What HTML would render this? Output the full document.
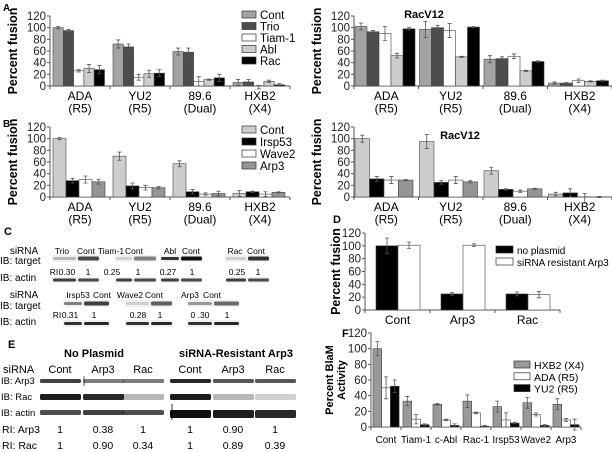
<!DOCTYPE html>
<html><head><meta charset="utf-8">
<style>
html,body{margin:0;padding:0;background:#fff;}
svg{display:block;font-family:"Liberation Sans",Arial,sans-serif;}
</style></head>
<body>
<svg id="fig" width="612" height="452" viewBox="0 0 612 452" xmlns="http://www.w3.org/2000/svg">
<g id="static" font-size="11" fill="#000">
  <text x="3" y="11" font-weight="bold" font-size="10">A</text>
  <text x="3" y="127" font-weight="bold" font-size="10">B</text>
  <text x="4" y="235" font-weight="bold" font-size="11">C</text>
  <text x="333" y="223" font-weight="bold" font-size="11">D</text>
  <text x="8" y="348" font-weight="bold" font-size="11">E</text>
  <text x="342" y="337" font-weight="bold" font-size="11">F</text>
  <text x="424" y="18" font-weight="bold" font-size="11" text-anchor="middle">RacV12</text>
  <text x="460" y="139" font-weight="bold" font-size="11" text-anchor="middle">RacV12</text>
</g>
<g id="charts"></g>
<g id="blots"></g>
</svg>
<script>
// ---------- Data ----------
const strainCats = ["ADA|(R5)", "YU2|(R5)", "89.6|(Dual)", "HXB2|(X4)"];
const aLegend = ["Cont", "Trio", "Tiam-1", "Abl", "Rac"];
const aLeftCont = [100, 72, 59, 6];
const aLeftTrio = [95, 67, 58, 7];
const aLeftTiam = [26, 15, 8, -2];
const aLeftAbl = [30, 21, 11, 8];
const aLeftRac = [28, 22, 14, 2];
const aLeftErr = [[2,7,6,5],[2,5,7,4],[2,5,8,3],[7,6,1,2],[7,6,6,2]];
const aRightCont = [102, 97, 46, 5];
const aRightTrio = [93, 100, 47, 5];
const aRightTiam = [90, 95, 51, 9];
const aRightAbl = [52, 50, 26, 8];
const aRightRac = [98, 101, 42, 9];
const aRightErr = [[6,14,6,2],[2,4,3,1],[12,12,4,3],[4,1,1,1],[2,1,1,1]];
const bLegend = ["Cont", "Irsp53", "Wave2", "Arp3"];
const bLeftCont = [100, 70, 57, 6];
const bLeftIrsp = [28, 19, 9, 9];
const bLeftWave = [30, 16, 5, 5];
const bLeftArp = [26, 16, 6, 8];
const bLeftErr = [[2,7,5,5],[4,5,4,1],[6,4,2,4],[4,2,4,1]];
const bRightCont = [100, 95, 45, 5];
const bRightIrsp = [31, 25, 13, 7];
const bRightWave = [29, 29, 10, -2];
const bRightArp = [29, 26, 14, 0];
const bRightErr = [[6,12,6,3],[4,3,1,7],[6,6,2,8],[1,2,1,1]];
const yTicks120 = [0, 20, 40, 60, 80, 100, 120];
const dCats = ["Cont", "Arp3", "Rac"];
const dLegend = ["no plasmid", "siRNA resistant Arp3"];
const dNoPlasmid = [100, 25, 25];
const dResistant = [101, 101, 24];
const dErr = [[12,2,3],[5,2,5]];
const fCats = ["Cont", "Tiam-1", "c-Abl", "Rac-1", "Irsp53", "Wave2", "Arp3"];
const fLegend = ["HXB2 (X4)", "ADA (R5)", "YU2 (R5)"];
const fHXB2 = [100, 33, 29, 33, 26, 31, 29];
const fADA = [50, 10, 9, 18, 9, 16, 9];
const fYU2 = [52, 3, 2, 1, 5, 2, 3];
const fErr = [[9,6,1,8,7,7,7],[14,6,1,1,9,2,2],[8,1,2,1,1,1,7]];

const NS = "http://www.w3.org/2000/svg";
function mk(tag, attrs, parent, text){
  const e = document.createElementNS(NS, tag);
  for (const k in attrs) e.setAttribute(k, attrs[k]);
  if (text !== undefined) e.textContent = text;
  parent.appendChild(e);
  return e;
}
const charts = document.getElementById("charts");

function chart(cfg){
  const g = mk("g", {}, charts);
  
  
  const yScale = v => cfg.y0 + (cfg.yTop - cfg.y0) * v / 120;
  const nG = cfg.cats.length;
  const xEnd = cfg.x0 + cfg.groupW * nG;
  const ax = mk("line", {x1:cfg.x0, y1:cfg.yTop, x2:cfg.x0, y2:cfg.y0, stroke:"#555", "stroke-width":1}, g);
  
  
  const bx = mk("line", {x1:cfg.x0, y1:cfg.y0, x2:xEnd, y2:cfg.y0, stroke:"#555", "stroke-width":1}, g);
  
  
  yTicks120.forEach(t => {
    const y = yScale(t);
    mk("line", {x1:cfg.x0-3, y1:y, x2:cfg.x0, y2:y, stroke:"#555"}, g);
    const tl = mk("text", {x:cfg.x0-4, y:y+4, "text-anchor":"end", "font-size":11.5, fill:"#222"}, g, t);
    
    
  });
  for (let i=0;i<=nG;i++){
    const x = cfg.x0 + i*cfg.groupW;
    mk("line", {x1:x, y1:cfg.y0, x2:x, y2:cfg.y0+3, stroke:"#555"}, g);
  }
  cfg.yTitle.forEach((t, k) => {
    const tx = cfg.yTitleX + k*12;
    const yt = mk("text", {x:tx, y:(cfg.y0+cfg.yTop)/2, transform:`rotate(-90 ${tx} ${(cfg.y0+cfg.yTop)/2})`, "text-anchor":"middle", "font-size":cfg.yTitleSize||12.5, "font-weight":"bold"}, g, t);
    
    
  });
  cfg.cats.forEach((c, i) => {
    const gx = cfg.x0 + i*cfg.groupW + cfg.pad;
    cfg.series.forEach((s, j) => {
      const v = s[i];
      const x = gx + j*cfg.barW;
      const yv = yScale(Math.max(v,0));
      const h = Math.max(cfg.y0 - yv, 0);
      const r = mk("rect", {x:x, y:yv, width:cfg.barW, height:h, fill:cfg.colors[j], stroke:"#444", "stroke-width":0.6}, g);
      
      
      const e = cfg.err[j][i];
      const cx = x + cfg.barW/2;
      const eb = mk("path", {d:`M${cx-2},${yScale(v+e)}H${cx+2}M${cx},${yScale(v+e)}V${yScale(v-e)}M${cx-2},${yScale(v-e)}H${cx+2}`, stroke:"#555", "stroke-width":0.8, fill:"none"}, g);
      
      
    });
    const lines = c.split("|");
    lines.forEach((ln, k) => {
      const cl = mk("text", {x:cfg.x0 + (i+0.5)*cfg.groupW, y:cfg.y0 + (cfg.catDy||14) + k*12.5, "text-anchor":"middle", "font-size":cfg.catSize||12}, g, ln);
      
      
    });
  });
  if (cfg.legendPos){
    cfg.legend.forEach((l, j) => {
      const lx = cfg.legendPos[0], ly = cfg.legendPos[1] + j*cfg.legendGap;
      const lg = mk("g", {}, g);
      
      
      mk("rect", {x:lx, y:ly-4, width:cfg.legendBox||14, height:7, fill:cfg.colors[j], stroke:"#333", "stroke-width":0.7}, lg);
      mk("text", {x:lx+(cfg.legendBox||14)+4, y:ly+4, "font-size":cfg.legendSize||11.5}, lg, l);
    });
  }
}

const aColors = ["#a3a3a3", "#4d4d4d", "#ffffff", "#cdcdcd", "#000000"];
const bColors = ["#cdcdcd", "#000000", "#ffffff", "#959595"];
chart({name:"chart-a-left", cats:strainCats, series:[aLeftCont,aLeftTrio,aLeftTiam,aLeftAbl,aLeftRac], err:aLeftErr, legend:aLegend, colors:aColors,
  x0:50, groupW:60, pad:3, barW:10.3, y0:86, yTop:16, yTitle:["Percent fusion"], yTitleX:17, legendPos:[242,15], legendGap:11.5});
chart({name:"chart-a-right", cats:strainCats, series:[aRightCont,aRightTrio,aRightTiam,aRightAbl,aRightRac], err:aRightErr, legend:aLegend, colors:aColors,
  x0:354, groupW:64.5, pad:1, barW:12, y0:86, yTop:16, yTitle:["Percent fusion"], yTitleX:321});
chart({name:"chart-b-left", cats:strainCats, series:[bLeftCont,bLeftIrsp,bLeftWave,bLeftArp], err:bLeftErr, legend:bLegend, colors:bColors,
  x0:50, groupW:60, pad:3, barW:13, y0:197, yTop:127, yTitle:["Percent fusion"], yTitleX:17, legendPos:[242,130], legendGap:12});
chart({name:"chart-b-right", cats:strainCats, series:[bRightCont,bRightIrsp,bRightWave,bRightArp], err:bRightErr, legend:bLegend, colors:bColors,
  x0:354, groupW:64.5, pad:1, barW:14.5, y0:197, yTop:127, yTitle:["Percent fusion"], yTitleX:321});
chart({name:"chart-d", cats:dCats, series:[dNoPlasmid,dResistant], err:dErr, legend:dLegend, colors:["#000","#fff"],
  x0:365, groupW:65, pad:11, barW:22, y0:310, yTop:233, yTitle:["Percent fusion"], yTitleX:340, legendPos:[496,250], legendGap:12, legendBox:17, legendSize:10});
chart({name:"chart-f", cats:fCats, series:[fHXB2,fADA,fYU2], err:fErr, legend:fLegend, colors:["#999","#fff","#000"],
  x0:371, groupW:30, pad:2, barW:8.7, y0:427, yTop:333, yTitle:["Percent BlaM","Activity"], yTitleX:333, yTitleSize:11, legendPos:[514,365], legendGap:11.8, legendBox:16, legendSize:10.5, catSize:9.8, catDy:16});

// ---------- Blots ----------
const blots = document.getElementById("blots");
function txt(x,y,s,name,anchor,size,weight){
  const t = mk("text", {x:x, y:y, "font-size":size||10, "text-anchor":anchor||"start", "font-weight":weight||"normal"}, blots, s);
  
  
  return t;
}
function band(x,y,w,h,op){
  const r = mk("rect", {x:x, y:y, width:w, height:h, fill:"#111", opacity:op, rx:1.5}, blots);
  
  
}
function bg(x,y,w,h){
  mk("rect", {x:x, y:y, width:w, height:h, fill:"#f0f0f0"}, blots);
}
// Panel C block 1
txt(24,254,"siRNA","row-label","middle",10);
txt(0,264,"IB: target","row-label","start",10);
txt(0,281,"IB: actin","row-label","start",10);
const cTop = [["Trio",62],["Cont",86],["Tiam-1",111],["Cont",134],["Abl",170],["Cont",191],["Rac",235],["Cont",256]];
cTop.forEach(l=>txt(l[1],254,l[0],"lane-label","middle",8.5));
const cRI = [["0.30",67],["1",88],["0.25",112],["1",138],["0.27",168],["1",192],["0.25",237],["1",258]];
txt(54,275,"RI","ri-label","middle",8.5);
cRI.forEach(l=>txt(l[1],275,l[0],"ri-value","middle",8.5));
const cBandsX = [[52,77,100],[115,133,157],[160,180,203],[225,247,270]];
const cTgt = [[0.25,0.75],[0.15,0.5],[0.85,1],[0.15,0.85]];
cBandsX.forEach((b,i)=>{
  bg(b[0],255,b[2]-b[0],7); bg(b[0],277,b[2]-b[0],6);
  band(b[0]+1,257,b[1]-b[0]-2,3,cTgt[i][0]); band(b[1]+1,256.5,b[2]-b[1]-2,4,cTgt[i][1]);
  band(b[0]+1,278.5,b[1]-b[0]-2,3,0.8); band(b[1]+1,278.5,b[2]-b[1]-2,3,0.75);
});
// Panel C block 2
txt(24,298,"siRNA","row-label","middle",10);
txt(0,309,"IB: target","row-label","start",10);
txt(0,325,"IB: actin","row-label","start",10);
const cBot = [["Irsp53",78],["Cont",102],["Wave2",130],["Cont",154],["Arp3",190],["Cont",212]];
cBot.forEach(l=>txt(l[1],298,l[0],"lane-label","middle",8.5));
const cRI2 = [["0.31",70],["1",94],["0.28",138],["1",160],["0 .30",200],["1",227]];
txt(57,318,"RI","ri-label","middle",8.5);
cRI2.forEach(l=>txt(l[1],318,l[0],"ri-value","middle",8.5));
const cBandsX2 = [[63,83,110],[125,150,173],[187,213,240]];
const cTgt2 = [[0.5,0.8],[0.15,0.65],[0.4,0.6]];
cBandsX2.forEach((b,i)=>{
  bg(b[0],300,b[2]-b[0],7); bg(b[0],320,b[2]-b[0],7);
  band(b[0]+1,302,b[1]-b[0]-2,3,cTgt2[i][0]); band(b[1]+1,301.5,b[2]-b[1]-2,4,cTgt2[i][1]);
  band(b[0]+1,322,b[1]-b[0]-2,3,0.85); band(b[1]+1,322,b[2]-b[1]-2,3,0.9);
});
// Panel E
txt(94,357,"No Plasmid","e-header","middle",11,"bold");
txt(236,357,"siRNA-Resistant Arp3","e-header","middle",11,"bold");
txt(3,373,"siRNA","row-label","start",11);
const eLanes = [["Cont",60],["Arp3",103],["Rac",143],["Cont",190],["Arp3",233],["Rac",275]];
eLanes.forEach(l=>txt(l[1],373,l[0],"lane-label","middle",11));
[["IB: Arp3",384],["IB: Rac",400],["IB: actin",416]].forEach(r=>txt(1,r[1],r[0],"row-label","start",9.5));
[["RI: Arp3",433],["RI: Rac",449]].forEach(r=>txt(2,r[1],r[0],"row-label","start",10.5));
const eRIArp3 = ["1","0.38","1","1","0.90","1"];
const eRIRac = ["1","0.90","0.34","1","0.89","0.39"];
eLanes.forEach((l,i)=>{txt(l[1],433,eRIArp3[i],"ri-value","middle",10.5);txt(l[1],449,eRIRac[i],"ri-value","middle",10.5);});
const eArp = [0.8,0.55,0.55,0.9,0.7,0.7], eRac=[0.95,0.9,0.3,0.95,0.3,0.2], eAct=[0.75,0.8,0.75,1,0.95,0.9];
eLanes.forEach((l,i)=>{band(l[1]-20,379,41,4,eArp[i]);band(l[1]-20,394,41,6,eRac[i]);band(l[1]-20,410,41,i>2?8:5,eAct[i]);});
mk("line",{x1:172,y1:404,x2:172,y2:420,stroke:"#000","stroke-width":0.8},blots);
mk("line",{x1:84,y1:376,x2:84,y2:386,stroke:"#333","stroke-width":0.8},blots);
</script>
</body></html>
